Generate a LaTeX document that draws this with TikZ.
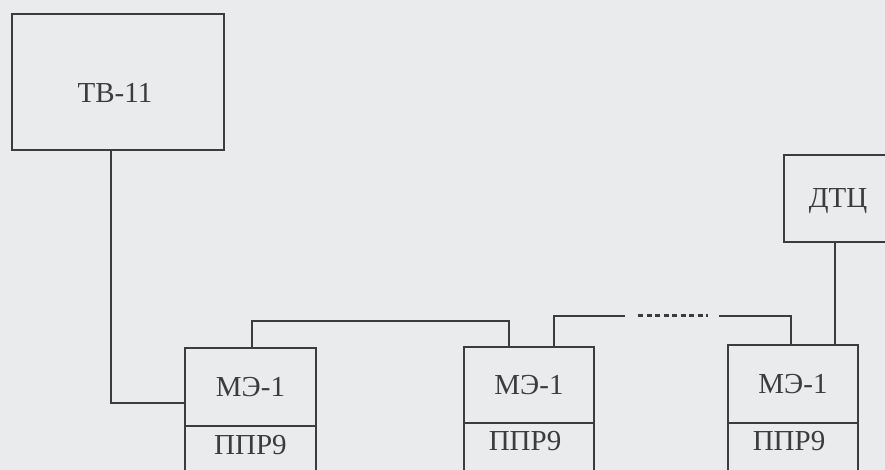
\documentclass[tikz,border=0pt]{standalone}
\usepackage{fontspec}
\setmainfont{Liberation Serif}
\definecolor{bg}{HTML}{E9EBED}
\definecolor{ink}{HTML}{3C3C3E}
\begin{document}
\begin{tikzpicture}[x=1pt,y=-1pt,
  box/.style={draw=ink,line width=1.8pt,rectangle,inner sep=0pt,outer sep=0pt,text=ink,font=\fontsize{29}{30}\selectfont},
  lbl/.style={text=ink,font=\fontsize{29}{30}\selectfont},
  wire/.style={draw=ink,line width=1.8pt},
  dots/.style={draw=ink,line width=3pt,dash pattern=on 5pt off 3.5pt}]
\fill[bg] (0,0) rectangle (885,470);
\useasboundingbox (0,0) rectangle (885,470);
\begin{scope}
\clip (0,0) rectangle (885,470);
\node[box,minimum width=212pt,minimum height=136pt] (tv) at (118,82) {};
\node[lbl] (tvt) at (115,93) {ТВ-11};
\node[box,minimum width=108pt,minimum height=87pt] (dtc) at (838,198.5) {};
\node[lbl] (dtct) at (838,201) {ДТЦ};
% ME boxes (upper part)
\node[box,minimum width=131pt,minimum height=78pt] (me1) at (250.5,387) {МЭ-1};
\node[box,minimum width=130pt,minimum height=76pt] (me2) at (529,385) {МЭ-1};
\node[box,minimum width=130pt,minimum height=78pt] (me3) at (793,384) {МЭ-1};
% lower parts (ППР9)
\draw[wire] (me1.south west) -- ++(0,60) (me1.south east) -- ++(0,60);
\draw[wire] (me2.south west) -- ++(0,60) (me2.south east) -- ++(0,60);
\draw[wire] (me3.south west) -- ++(0,60) (me3.south east) -- ++(0,60);
\node[lbl] (p1) at (250.5,445) {ППР9};
\node[lbl] (p2) at (525,441) {ППР9};
\node[lbl] (p3) at (789,441) {ППР9};
\end{scope}
% connectors
\coordinate (a1) at (252,321);
\coordinate (dl) at (625,316);
\coordinate (dr) at (719,316);
\draw[wire] ([xshift=-7pt]tv.south) |- ([yshift=-16pt]me1.west);
\draw[wire] ([xshift=1.5pt]me1.north) -- (a1) -| ([xshift=-20pt]me2.north);
\draw[wire] ([xshift=25pt]me2.north) |- (dl);
\draw[dots] (638,315) -- (708,315);
\draw[wire] (dr) -| ([xshift=-2pt]me3.north);
\draw[wire] ([xshift=-3pt]dtc.south) -- ([xshift=-3pt]dtc.south |- me3.north);
\end{tikzpicture}
\end{document}
